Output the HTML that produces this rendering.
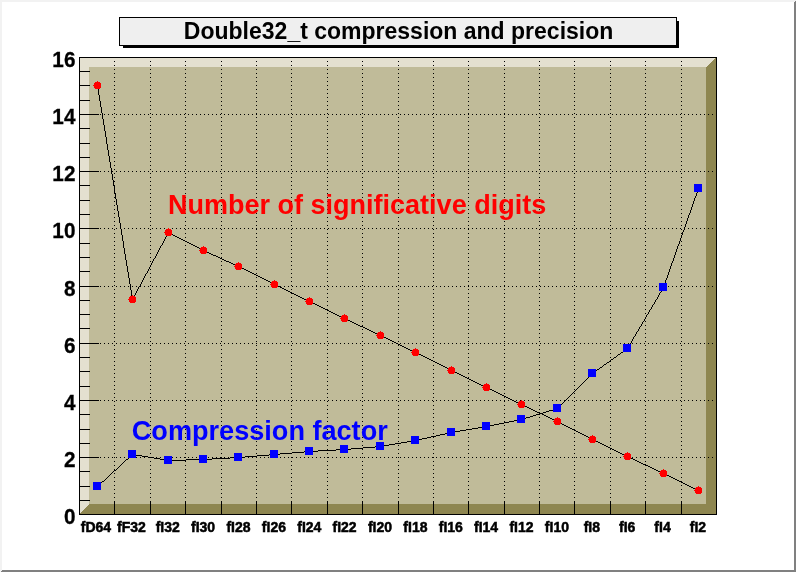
<!DOCTYPE html>
<html lang="en"><head><meta charset="utf-8"><title>Double32_t compression and precision</title>
<style>html,body{margin:0;padding:0;background:#fff}body{width:796px;height:572px;overflow:hidden}svg{display:block}text{font-family:"Liberation Sans",Arial,Helvetica,sans-serif;font-weight:bold}</style></head><body>
<svg width="796" height="572" viewBox="0 0 796 572">
<g shape-rendering="crispEdges">
<rect x="0" y="0" width="796" height="572" fill="#ffffff"/>
<polygon points="0,0 796,0 794,2 2,2 2,570 0,572" fill="#f2f2f2"/>
<polygon points="796,0 796,572 0,572 2,570 794,570 794,2" fill="#808080"/>
<rect x="123" y="21" width="556" height="27" fill="#000"/>
<rect x="119.5" y="17.5" width="557" height="28" fill="#efefef" stroke="#000" stroke-width="1"/>
<rect x="80" y="58" width="636" height="456" fill="#c0bb99"/>
<polygon points="80,58 716,58 706,67 89,67 89,504 80,514" fill="#e4e0d0"/>
<polygon points="716,58 716,514 80,514 89,504 706,504 706,67" fill="#8e8650"/>
<line x1="114.5" y1="57" x2="114.5" y2="514" stroke="#000" stroke-width="1" stroke-dasharray="1 3"/>
<line x1="150.5" y1="57" x2="150.5" y2="514" stroke="#000" stroke-width="1" stroke-dasharray="1 3"/>
<line x1="185.5" y1="57" x2="185.5" y2="514" stroke="#000" stroke-width="1" stroke-dasharray="1 3"/>
<line x1="221.5" y1="57" x2="221.5" y2="514" stroke="#000" stroke-width="1" stroke-dasharray="1 3"/>
<line x1="256.5" y1="57" x2="256.5" y2="514" stroke="#000" stroke-width="1" stroke-dasharray="1 3"/>
<line x1="291.5" y1="57" x2="291.5" y2="514" stroke="#000" stroke-width="1" stroke-dasharray="1 3"/>
<line x1="327.5" y1="57" x2="327.5" y2="514" stroke="#000" stroke-width="1" stroke-dasharray="1 3"/>
<line x1="362.5" y1="57" x2="362.5" y2="514" stroke="#000" stroke-width="1" stroke-dasharray="1 3"/>
<line x1="398.5" y1="57" x2="398.5" y2="514" stroke="#000" stroke-width="1" stroke-dasharray="1 3"/>
<line x1="433.5" y1="57" x2="433.5" y2="514" stroke="#000" stroke-width="1" stroke-dasharray="1 3"/>
<line x1="468.5" y1="57" x2="468.5" y2="514" stroke="#000" stroke-width="1" stroke-dasharray="1 3"/>
<line x1="504.5" y1="57" x2="504.5" y2="514" stroke="#000" stroke-width="1" stroke-dasharray="1 3"/>
<line x1="539.5" y1="57" x2="539.5" y2="514" stroke="#000" stroke-width="1" stroke-dasharray="1 3"/>
<line x1="574.5" y1="57" x2="574.5" y2="514" stroke="#000" stroke-width="1" stroke-dasharray="1 3"/>
<line x1="610.5" y1="57" x2="610.5" y2="514" stroke="#000" stroke-width="1" stroke-dasharray="1 3"/>
<line x1="645.5" y1="57" x2="645.5" y2="514" stroke="#000" stroke-width="1" stroke-dasharray="1 3"/>
<line x1="681.5" y1="57" x2="681.5" y2="514" stroke="#000" stroke-width="1" stroke-dasharray="1 3"/>
<line x1="80" y1="457.5" x2="716" y2="457.5" stroke="#000" stroke-width="1" stroke-dasharray="1 3"/>
<line x1="80" y1="400.5" x2="716" y2="400.5" stroke="#000" stroke-width="1" stroke-dasharray="1 3"/>
<line x1="80" y1="343.5" x2="716" y2="343.5" stroke="#000" stroke-width="1" stroke-dasharray="1 3"/>
<line x1="80" y1="286.5" x2="716" y2="286.5" stroke="#000" stroke-width="1" stroke-dasharray="1 3"/>
<line x1="80" y1="228.5" x2="716" y2="228.5" stroke="#000" stroke-width="1" stroke-dasharray="1 3"/>
<line x1="80" y1="171.5" x2="716" y2="171.5" stroke="#000" stroke-width="1" stroke-dasharray="1 3"/>
<line x1="80" y1="114.5" x2="716" y2="114.5" stroke="#000" stroke-width="1" stroke-dasharray="1 3"/>
<rect x="80" y="514" width="19" height="1" fill="#000"/>
<rect x="80" y="500" width="10" height="1" fill="#000"/>
<rect x="80" y="486" width="10" height="1" fill="#000"/>
<rect x="80" y="471" width="10" height="1" fill="#000"/>
<rect x="80" y="457" width="19" height="1" fill="#000"/>
<rect x="80" y="443" width="10" height="1" fill="#000"/>
<rect x="80" y="429" width="10" height="1" fill="#000"/>
<rect x="80" y="414" width="10" height="1" fill="#000"/>
<rect x="80" y="400" width="19" height="1" fill="#000"/>
<rect x="80" y="386" width="10" height="1" fill="#000"/>
<rect x="80" y="371" width="10" height="1" fill="#000"/>
<rect x="80" y="357" width="10" height="1" fill="#000"/>
<rect x="80" y="343" width="19" height="1" fill="#000"/>
<rect x="80" y="328" width="10" height="1" fill="#000"/>
<rect x="80" y="314" width="10" height="1" fill="#000"/>
<rect x="80" y="300" width="10" height="1" fill="#000"/>
<rect x="80" y="286" width="19" height="1" fill="#000"/>
<rect x="80" y="271" width="10" height="1" fill="#000"/>
<rect x="80" y="257" width="10" height="1" fill="#000"/>
<rect x="80" y="243" width="10" height="1" fill="#000"/>
<rect x="80" y="228" width="19" height="1" fill="#000"/>
<rect x="80" y="214" width="10" height="1" fill="#000"/>
<rect x="80" y="200" width="10" height="1" fill="#000"/>
<rect x="80" y="185" width="10" height="1" fill="#000"/>
<rect x="80" y="171" width="19" height="1" fill="#000"/>
<rect x="80" y="157" width="10" height="1" fill="#000"/>
<rect x="80" y="143" width="10" height="1" fill="#000"/>
<rect x="80" y="128" width="10" height="1" fill="#000"/>
<rect x="80" y="114" width="19" height="1" fill="#000"/>
<rect x="80" y="100" width="10" height="1" fill="#000"/>
<rect x="80" y="85" width="10" height="1" fill="#000"/>
<rect x="80" y="71" width="10" height="1" fill="#000"/>
<rect x="80" y="57" width="19" height="1" fill="#000"/>
<rect x="114" y="501" width="1" height="13" fill="#000"/>
<rect x="150" y="501" width="1" height="13" fill="#000"/>
<rect x="185" y="501" width="1" height="13" fill="#000"/>
<rect x="221" y="501" width="1" height="13" fill="#000"/>
<rect x="256" y="501" width="1" height="13" fill="#000"/>
<rect x="291" y="501" width="1" height="13" fill="#000"/>
<rect x="327" y="501" width="1" height="13" fill="#000"/>
<rect x="362" y="501" width="1" height="13" fill="#000"/>
<rect x="398" y="501" width="1" height="13" fill="#000"/>
<rect x="433" y="501" width="1" height="13" fill="#000"/>
<rect x="468" y="501" width="1" height="13" fill="#000"/>
<rect x="504" y="501" width="1" height="13" fill="#000"/>
<rect x="539" y="501" width="1" height="13" fill="#000"/>
<rect x="574" y="501" width="1" height="13" fill="#000"/>
<rect x="610" y="501" width="1" height="13" fill="#000"/>
<rect x="645" y="501" width="1" height="13" fill="#000"/>
<rect x="681" y="501" width="1" height="13" fill="#000"/>
<rect x="79.5" y="57.5" width="637" height="457" fill="none" stroke="#000" stroke-width="1"/>
<path fill="#000" d="M698 188h1v2h-1zM697 190h1v3h-1zM696 193h1v3h-1zM695 196h1v2h-1zM694 198h1v3h-1zM693 201h1v3h-1zM692 204h1v3h-1zM691 207h1v3h-1zM690 210h1v3h-1zM689 213h1v2h-1zM688 215h1v3h-1zM687 218h1v3h-1zM686 221h1v3h-1zM685 224h1v3h-1zM684 227h1v3h-1zM683 230h1v2h-1zM682 232h1v3h-1zM681 235h1v3h-1zM680 238h1v3h-1zM679 241h1v3h-1zM678 244h1v2h-1zM677 246h1v3h-1zM676 249h1v3h-1zM675 252h1v3h-1zM674 255h1v3h-1zM673 258h1v3h-1zM672 261h1v2h-1zM671 263h1v3h-1zM670 266h1v3h-1zM669 269h1v3h-1zM668 272h1v3h-1zM667 275h1v3h-1zM666 278h1v2h-1zM665 280h1v3h-1zM664 283h1v3h-1zM663 286h1v2h-1zM662 288h1v2h-1zM661 290h1v2h-1zM660 292h1v1h-1zM659 293h1v2h-1zM658 295h1v2h-1zM657 297h1v2h-1zM656 299h1v1h-1zM655 300h1v2h-1zM654 302h1v2h-1zM653 304h1v1h-1zM652 305h1v2h-1zM651 307h1v2h-1zM650 309h1v1h-1zM649 310h1v2h-1zM648 312h1v2h-1zM647 314h1v1h-1zM646 315h1v2h-1zM645 317h1v2h-1zM644 319h1v2h-1zM643 321h1v1h-1zM642 322h1v2h-1zM641 324h1v2h-1zM640 326h1v1h-1zM639 327h1v2h-1zM638 329h1v2h-1zM637 331h1v1h-1zM636 332h1v2h-1zM635 334h1v2h-1zM634 336h1v1h-1zM633 337h1v2h-1zM632 339h1v2h-1zM631 341h1v2h-1zM630 343h1v1h-1zM629 344h1v2h-1zM628 346h1v2h-1zM627 348h1v1h-1zM625 349h2v1h-2zM624 350h1v1h-1zM623 351h1v1h-1zM621 352h2v1h-2zM620 353h1v1h-1zM618 354h2v1h-2zM617 355h1v1h-1zM616 356h1v1h-1zM614 357h2v1h-2zM613 358h1v1h-1zM611 359h2v1h-2zM610 360h1v1h-1zM609 361h1v1h-1zM607 362h2v1h-2zM606 363h1v1h-1zM604 364h2v1h-2zM603 365h1v1h-1zM602 366h1v1h-1zM600 367h2v1h-2zM599 368h1v1h-1zM597 369h2v1h-2zM596 370h1v1h-1zM595 371h1v1h-1zM593 372h2v1h-2zM592 373h1v1h-1zM591 374h1v1h-1zM590 375h1v1h-1zM589 376h1v1h-1zM588 377h1v1h-1zM587 378h1v1h-1zM586 379h1v1h-1zM585 380h1v1h-1zM584 381h1v1h-1zM583 382h1v1h-1zM582 383h1v1h-1zM581 384h1v1h-1zM580 385h1v1h-1zM579 386h1v1h-1zM578 387h1v1h-1zM577 388h1v1h-1zM576 389h1v1h-1zM575 390h1v1h-1zM574 391h1v1h-1zM573 392h1v1h-1zM572 393h1v1h-1zM571 394h1v1h-1zM570 395h1v1h-1zM569 396h1v1h-1zM568 397h1v1h-1zM567 398h1v1h-1zM566 399h1v1h-1zM565 400h1v1h-1zM564 401h1v1h-1zM563 402h1v1h-1zM562 403h1v1h-1zM561 404h1v1h-1zM560 405h1v1h-1zM559 406h1v1h-1zM558 407h1v1h-1zM556 408h2v1h-2zM553 409h3v1h-3zM549 410h4v1h-4zM546 411h3v1h-3zM543 412h3v1h-3zM540 413h3v1h-3zM536 414h4v1h-4zM533 415h3v1h-3zM530 416h3v1h-3zM526 417h4v1h-4zM523 418h3v1h-3zM519 419h4v1h-4zM514 420h5v1h-5zM509 421h5v1h-5zM504 422h5v1h-5zM499 423h5v1h-5zM494 424h5v1h-5zM489 425h5v1h-5zM484 426h5v1h-5zM478 427h6v1h-6zM472 428h6v1h-6zM466 429h6v1h-6zM460 430h6v1h-6zM454 431h6v1h-6zM449 432h5v1h-5zM445 433h4v1h-4zM440 434h5v1h-5zM436 435h4v1h-4zM431 436h5v1h-5zM427 437h4v1h-4zM422 438h5v1h-5zM418 439h4v1h-4zM413 440h5v1h-5zM407 441h6v1h-6zM401 442h6v1h-6zM395 443h6v1h-6zM389 444h6v1h-6zM383 445h6v1h-6zM375 446h8v1h-8zM363 447h12v1h-12zM351 448h12v1h-12zM336 449h15v1h-15zM318 450h18v1h-18zM304 451h14v1h-14zM292 452h12v1h-12zM280 453h12v1h-12zM132 454h4v1h-4zM269 454h11v1h-11zM131 455h1v1h-1zM136 455h6v1h-6zM257 455h12v1h-12zM130 456h1v1h-1zM142 456h6v1h-6zM245 456h12v1h-12zM129 457h1v1h-1zM148 457h6v1h-6zM230 457h15v1h-15zM128 458h1v1h-1zM154 458h6v1h-6zM212 458h18v1h-18zM126 459h2v1h-2zM160 459h6v1h-6zM186 459h26v1h-26zM125 460h1v1h-1zM166 460h20v1h-20zM124 461h1v1h-1zM123 462h1v1h-1zM122 463h1v1h-1zM121 464h1v1h-1zM120 465h1v1h-1zM119 466h1v1h-1zM118 467h1v1h-1zM117 468h1v1h-1zM116 469h1v1h-1zM114 470h2v1h-2zM113 471h1v1h-1zM112 472h1v1h-1zM111 473h1v1h-1zM110 474h1v1h-1zM109 475h1v1h-1zM108 476h1v1h-1zM107 477h1v1h-1zM106 478h1v1h-1zM105 479h1v1h-1zM104 480h1v1h-1zM102 481h2v1h-2zM101 482h1v1h-1zM100 483h1v1h-1zM99 484h1v1h-1zM98 485h1v1h-1zM97 486h1v1h-1z"/>
<path fill="#000" d="M97 85h1v4h-1zM98 89h1v6h-1zM99 95h1v6h-1zM100 101h1v6h-1zM101 107h1v6h-1zM102 113h1v6h-1zM103 119h1v6h-1zM104 125h1v6h-1zM105 131h1v6h-1zM106 137h1v7h-1zM107 144h1v6h-1zM108 150h1v6h-1zM109 156h1v6h-1zM110 162h1v6h-1zM111 168h1v6h-1zM112 174h1v6h-1zM113 180h1v6h-1zM114 186h1v7h-1zM115 193h1v6h-1zM116 199h1v6h-1zM117 205h1v6h-1zM118 211h1v6h-1zM119 217h1v6h-1zM120 223h1v6h-1zM121 229h1v6h-1zM168 232h1v1h-1zM167 233h1v2h-1zM169 233h2v1h-2zM171 234h2v1h-2zM122 235h1v6h-1zM166 235h1v2h-1zM173 235h2v1h-2zM175 236h2v1h-2zM165 237h1v2h-1zM177 237h2v1h-2zM179 238h2v1h-2zM164 239h1v2h-1zM181 239h2v1h-2zM183 240h2v1h-2zM123 241h1v7h-1zM163 241h1v2h-1zM185 241h2v1h-2zM187 242h2v1h-2zM162 243h1v2h-1zM189 243h2v1h-2zM191 244h2v1h-2zM161 245h1v1h-1zM193 245h2v1h-2zM160 246h1v2h-1zM195 246h2v1h-2zM197 247h2v1h-2zM124 248h1v6h-1zM159 248h1v2h-1zM199 248h2v1h-2zM201 249h2v1h-2zM158 250h1v2h-1zM203 250h2v1h-2zM205 251h2v1h-2zM157 252h1v2h-1zM207 252h2v1h-2zM209 253h2v1h-2zM125 254h1v6h-1zM156 254h1v2h-1zM211 254h2v1h-2zM213 255h3v1h-3zM155 256h1v2h-1zM216 256h2v1h-2zM218 257h2v1h-2zM154 258h1v1h-1zM220 258h2v1h-2zM153 259h1v2h-1zM222 259h2v1h-2zM126 260h1v6h-1zM224 260h2v1h-2zM152 261h1v2h-1zM226 261h3v1h-3zM229 262h2v1h-2zM151 263h1v2h-1zM231 263h2v1h-2zM233 264h2v1h-2zM150 265h1v2h-1zM235 265h2v1h-2zM127 266h1v6h-1zM237 266h3v1h-3zM149 267h1v2h-1zM240 267h2v1h-2zM242 268h2v1h-2zM148 269h1v2h-1zM244 269h2v1h-2zM246 270h2v1h-2zM147 271h1v2h-1zM248 271h2v1h-2zM128 272h1v6h-1zM250 272h2v1h-2zM146 273h1v1h-1zM252 273h2v1h-2zM145 274h1v2h-1zM254 274h2v1h-2zM256 275h2v1h-2zM144 276h1v2h-1zM258 276h2v1h-2zM260 277h2v1h-2zM129 278h1v6h-1zM143 278h1v2h-1zM262 278h2v1h-2zM264 279h2v1h-2zM142 280h1v2h-1zM266 280h2v1h-2zM268 281h2v1h-2zM141 282h1v2h-1zM270 282h2v1h-2zM272 283h2v1h-2zM130 284h1v6h-1zM140 284h1v2h-1zM274 284h2v1h-2zM276 285h2v1h-2zM139 286h1v1h-1zM278 286h2v1h-2zM138 287h1v2h-1zM280 287h2v1h-2zM282 288h2v1h-2zM137 289h1v2h-1zM284 289h2v1h-2zM131 290h1v6h-1zM286 290h2v1h-2zM136 291h1v2h-1zM288 291h2v1h-2zM290 292h2v1h-2zM135 293h1v2h-1zM292 293h2v1h-2zM294 294h2v1h-2zM134 295h1v2h-1zM296 295h2v1h-2zM132 296h1v1h-1zM298 296h2v1h-2zM132 297h2v1h-2zM300 297h2v1h-2zM132 298h2v1h-2zM302 298h2v1h-2zM132 299h1v1h-1zM304 299h2v1h-2zM306 300h2v1h-2zM308 301h3v1h-3zM311 302h2v1h-2zM313 303h2v1h-2zM315 304h2v1h-2zM317 305h2v1h-2zM319 306h2v1h-2zM321 307h2v1h-2zM323 308h2v1h-2zM325 309h2v1h-2zM327 310h2v1h-2zM329 311h2v1h-2zM331 312h2v1h-2zM333 313h2v1h-2zM335 314h2v1h-2zM337 315h2v1h-2zM339 316h2v1h-2zM341 317h2v1h-2zM343 318h3v1h-3zM346 319h2v1h-2zM348 320h2v1h-2zM350 321h2v1h-2zM352 322h2v1h-2zM354 323h2v1h-2zM356 324h2v1h-2zM358 325h2v1h-2zM360 326h3v1h-3zM363 327h2v1h-2zM365 328h2v1h-2zM367 329h2v1h-2zM369 330h2v1h-2zM371 331h2v1h-2zM373 332h2v1h-2zM375 333h2v1h-2zM377 334h2v1h-2zM379 335h3v1h-3zM382 336h2v1h-2zM384 337h2v1h-2zM386 338h2v1h-2zM388 339h2v1h-2zM390 340h2v1h-2zM392 341h2v1h-2zM394 342h2v1h-2zM396 343h2v1h-2zM398 344h2v1h-2zM400 345h2v1h-2zM402 346h2v1h-2zM404 347h2v1h-2zM406 348h2v1h-2zM408 349h2v1h-2zM410 350h2v1h-2zM412 351h2v1h-2zM414 352h3v1h-3zM417 353h2v1h-2zM419 354h2v1h-2zM421 355h2v1h-2zM423 356h2v1h-2zM425 357h2v1h-2zM427 358h2v1h-2zM429 359h2v1h-2zM431 360h2v1h-2zM433 361h2v1h-2zM435 362h2v1h-2zM437 363h2v1h-2zM439 364h2v1h-2zM441 365h2v1h-2zM443 366h2v1h-2zM445 367h2v1h-2zM447 368h2v1h-2zM449 369h2v1h-2zM451 370h2v1h-2zM453 371h2v1h-2zM455 372h2v1h-2zM457 373h2v1h-2zM459 374h2v1h-2zM461 375h2v1h-2zM463 376h2v1h-2zM465 377h2v1h-2zM467 378h2v1h-2zM469 379h2v1h-2zM471 380h2v1h-2zM473 381h2v1h-2zM475 382h2v1h-2zM477 383h2v1h-2zM479 384h2v1h-2zM481 385h2v1h-2zM483 386h2v1h-2zM485 387h3v1h-3zM488 388h2v1h-2zM490 389h2v1h-2zM492 390h2v1h-2zM494 391h2v1h-2zM496 392h2v1h-2zM498 393h2v1h-2zM500 394h2v1h-2zM502 395h2v1h-2zM504 396h2v1h-2zM506 397h2v1h-2zM508 398h2v1h-2zM510 399h2v1h-2zM512 400h2v1h-2zM514 401h2v1h-2zM516 402h2v1h-2zM518 403h2v1h-2zM520 404h3v1h-3zM523 405h2v1h-2zM525 406h2v1h-2zM527 407h2v1h-2zM529 408h2v1h-2zM531 409h2v1h-2zM533 410h2v1h-2zM535 411h2v1h-2zM537 412h3v1h-3zM540 413h2v1h-2zM542 414h2v1h-2zM544 415h2v1h-2zM546 416h2v1h-2zM548 417h2v1h-2zM550 418h2v1h-2zM552 419h2v1h-2zM554 420h2v1h-2zM556 421h2v1h-2zM558 422h2v1h-2zM560 423h2v1h-2zM562 424h2v1h-2zM564 425h2v1h-2zM566 426h2v1h-2zM568 427h2v1h-2zM570 428h2v1h-2zM572 429h2v1h-2zM574 430h2v1h-2zM576 431h2v1h-2zM578 432h2v1h-2zM580 433h2v1h-2zM582 434h2v1h-2zM584 435h2v1h-2zM586 436h2v1h-2zM588 437h2v1h-2zM590 438h2v1h-2zM592 439h2v1h-2zM594 440h2v1h-2zM596 441h2v1h-2zM598 442h2v1h-2zM600 443h2v1h-2zM602 444h2v1h-2zM604 445h2v1h-2zM606 446h2v1h-2zM608 447h2v1h-2zM610 448h2v1h-2zM612 449h2v1h-2zM614 450h2v1h-2zM616 451h2v1h-2zM618 452h2v1h-2zM620 453h2v1h-2zM622 454h2v1h-2zM624 455h2v1h-2zM626 456h3v1h-3zM629 457h2v1h-2zM631 458h2v1h-2zM633 459h2v1h-2zM635 460h2v1h-2zM637 461h2v1h-2zM639 462h2v1h-2zM641 463h2v1h-2zM643 464h3v1h-3zM646 465h2v1h-2zM648 466h2v1h-2zM650 467h2v1h-2zM652 468h2v1h-2zM654 469h2v1h-2zM656 470h2v1h-2zM658 471h2v1h-2zM660 472h2v1h-2zM662 473h3v1h-3zM665 474h2v1h-2zM667 475h2v1h-2zM669 476h2v1h-2zM671 477h2v1h-2zM673 478h2v1h-2zM675 479h2v1h-2zM677 480h2v1h-2zM679 481h2v1h-2zM681 482h2v1h-2zM683 483h2v1h-2zM685 484h2v1h-2zM687 485h2v1h-2zM689 486h2v1h-2zM691 487h2v1h-2zM693 488h2v1h-2zM695 489h2v1h-2zM697 490h2v1h-2z"/>
<rect x="93" y="482" width="8" height="8" fill="#0000ff"/>
<rect x="128" y="450" width="8" height="8" fill="#0000ff"/>
<rect x="164" y="456" width="8" height="8" fill="#0000ff"/>
<rect x="199" y="455" width="8" height="8" fill="#0000ff"/>
<rect x="234" y="453" width="8" height="8" fill="#0000ff"/>
<rect x="270" y="450" width="8" height="8" fill="#0000ff"/>
<rect x="305" y="447" width="8" height="8" fill="#0000ff"/>
<rect x="340" y="445" width="8" height="8" fill="#0000ff"/>
<rect x="376" y="442" width="8" height="8" fill="#0000ff"/>
<rect x="411" y="436" width="8" height="8" fill="#0000ff"/>
<rect x="447" y="428" width="8" height="8" fill="#0000ff"/>
<rect x="482" y="422" width="8" height="8" fill="#0000ff"/>
<rect x="517" y="415" width="8" height="8" fill="#0000ff"/>
<rect x="553" y="404" width="8" height="8" fill="#0000ff"/>
<rect x="588" y="369" width="8" height="8" fill="#0000ff"/>
<rect x="623" y="344" width="8" height="8" fill="#0000ff"/>
<rect x="659" y="283" width="8" height="8" fill="#0000ff"/>
<rect x="694" y="184" width="8" height="8" fill="#0000ff"/>
<path fill="#ff0000" d="M94 83h1v-1h5v1h1v5h-1v1h-5v-1h-1zM97 81h1v1h-1zM93 85h1v1h-1z"/>
<path fill="#ff0000" d="M129 297h1v-1h5v1h1v5h-1v1h-5v-1h-1zM132 295h1v1h-1zM128 299h1v1h-1z"/>
<path fill="#ff0000" d="M165 230h1v-1h5v1h1v5h-1v1h-5v-1h-1zM168 228h1v1h-1zM164 232h1v1h-1z"/>
<path fill="#ff0000" d="M200 248h1v-1h5v1h1v5h-1v1h-5v-1h-1zM203 246h1v1h-1zM199 250h1v1h-1z"/>
<path fill="#ff0000" d="M235 264h1v-1h5v1h1v5h-1v1h-5v-1h-1zM238 262h1v1h-1zM234 266h1v1h-1z"/>
<path fill="#ff0000" d="M271 282h1v-1h5v1h1v5h-1v1h-5v-1h-1zM274 280h1v1h-1zM270 284h1v1h-1z"/>
<path fill="#ff0000" d="M306 299h1v-1h5v1h1v5h-1v1h-5v-1h-1zM309 297h1v1h-1zM305 301h1v1h-1z"/>
<path fill="#ff0000" d="M341 316h1v-1h5v1h1v5h-1v1h-5v-1h-1zM344 314h1v1h-1zM340 318h1v1h-1z"/>
<path fill="#ff0000" d="M377 333h1v-1h5v1h1v5h-1v1h-5v-1h-1zM380 331h1v1h-1zM376 335h1v1h-1z"/>
<path fill="#ff0000" d="M412 350h1v-1h5v1h1v5h-1v1h-5v-1h-1zM415 348h1v1h-1zM411 352h1v1h-1z"/>
<path fill="#ff0000" d="M448 368h1v-1h5v1h1v5h-1v1h-5v-1h-1zM451 366h1v1h-1zM447 370h1v1h-1z"/>
<path fill="#ff0000" d="M483 385h1v-1h5v1h1v5h-1v1h-5v-1h-1zM486 383h1v1h-1zM482 387h1v1h-1z"/>
<path fill="#ff0000" d="M518 402h1v-1h5v1h1v5h-1v1h-5v-1h-1zM521 400h1v1h-1zM517 404h1v1h-1z"/>
<path fill="#ff0000" d="M554 419h1v-1h5v1h1v5h-1v1h-5v-1h-1zM557 417h1v1h-1zM553 421h1v1h-1z"/>
<path fill="#ff0000" d="M589 437h1v-1h5v1h1v5h-1v1h-5v-1h-1zM592 435h1v1h-1zM588 439h1v1h-1z"/>
<path fill="#ff0000" d="M624 454h1v-1h5v1h1v5h-1v1h-5v-1h-1zM627 452h1v1h-1zM623 456h1v1h-1z"/>
<path fill="#ff0000" d="M660 471h1v-1h5v1h1v5h-1v1h-5v-1h-1zM663 469h1v1h-1zM659 473h1v1h-1z"/>
<path fill="#ff0000" d="M695 488h1v-1h5v1h1v5h-1v1h-5v-1h-1zM698 486h1v1h-1zM694 490h1v1h-1z"/>
</g>
<g>
<text x="398.6" y="39.2" font-size="23" text-anchor="middle" fill="#000">Double32_t compression and precision</text>
<text x="168.1" y="214" font-size="27" fill="#ff0000">Number of significative digits</text>
<text x="131.8" y="439.9" font-size="27.1" fill="#0000ff">Compression factor</text>
<text transform="translate(75.4,524.2) scale(0.925,1)" font-size="22.4" text-anchor="end" fill="#000" stroke="#000" stroke-width="0.3">0</text>
<text transform="translate(75.4,467.2) scale(0.925,1)" font-size="22.4" text-anchor="end" fill="#000" stroke="#000" stroke-width="0.3">2</text>
<text transform="translate(75.4,410.2) scale(0.925,1)" font-size="22.4" text-anchor="end" fill="#000" stroke="#000" stroke-width="0.3">4</text>
<text transform="translate(75.4,353.2) scale(0.925,1)" font-size="22.4" text-anchor="end" fill="#000" stroke="#000" stroke-width="0.3">6</text>
<text transform="translate(75.4,296.2) scale(0.925,1)" font-size="22.4" text-anchor="end" fill="#000" stroke="#000" stroke-width="0.3">8</text>
<text transform="translate(75.4,238.2) scale(0.925,1)" font-size="22.4" text-anchor="end" fill="#000" stroke="#000" stroke-width="0.3">10</text>
<text transform="translate(75.4,181.2) scale(0.925,1)" font-size="22.4" text-anchor="end" fill="#000" stroke="#000" stroke-width="0.3">12</text>
<text transform="translate(75.4,124.2) scale(0.925,1)" font-size="22.4" text-anchor="end" fill="#000" stroke="#000" stroke-width="0.3">14</text>
<text transform="translate(75.4,67.2) scale(0.925,1)" font-size="22.4" text-anchor="end" fill="#000" stroke="#000" stroke-width="0.3">16</text>
<text x="96.0" y="532" font-size="14" text-anchor="middle" fill="#000" stroke="#000" stroke-width="0.5">fD64</text>
<text x="131.4" y="532" font-size="14" text-anchor="middle" fill="#000" stroke="#000" stroke-width="0.5">fF32</text>
<text x="167.7" y="532" font-size="14" text-anchor="middle" fill="#000" stroke="#000" stroke-width="0.5">fI32</text>
<text x="203.1" y="532" font-size="14" text-anchor="middle" fill="#000" stroke="#000" stroke-width="0.5">fI30</text>
<text x="238.5" y="532" font-size="14" text-anchor="middle" fill="#000" stroke="#000" stroke-width="0.5">fI28</text>
<text x="273.9" y="532" font-size="14" text-anchor="middle" fill="#000" stroke="#000" stroke-width="0.5">fI26</text>
<text x="309.3" y="532" font-size="14" text-anchor="middle" fill="#000" stroke="#000" stroke-width="0.5">fI24</text>
<text x="344.6" y="532" font-size="14" text-anchor="middle" fill="#000" stroke="#000" stroke-width="0.5">fI22</text>
<text x="380.0" y="532" font-size="14" text-anchor="middle" fill="#000" stroke="#000" stroke-width="0.5">fI20</text>
<text x="415.4" y="532" font-size="14" text-anchor="middle" fill="#000" stroke="#000" stroke-width="0.5">fI18</text>
<text x="450.8" y="532" font-size="14" text-anchor="middle" fill="#000" stroke="#000" stroke-width="0.5">fI16</text>
<text x="486.1" y="532" font-size="14" text-anchor="middle" fill="#000" stroke="#000" stroke-width="0.5">fI14</text>
<text x="521.5" y="532" font-size="14" text-anchor="middle" fill="#000" stroke="#000" stroke-width="0.5">fI12</text>
<text x="556.9" y="532" font-size="14" text-anchor="middle" fill="#000" stroke="#000" stroke-width="0.5">fI10</text>
<text x="591.8" y="532" font-size="14" text-anchor="middle" fill="#000" stroke="#000" stroke-width="0.5">fI8</text>
<text x="627.2" y="532" font-size="14" text-anchor="middle" fill="#000" stroke="#000" stroke-width="0.5">fI6</text>
<text x="662.5" y="532" font-size="14" text-anchor="middle" fill="#000" stroke="#000" stroke-width="0.5">fI4</text>
<text x="697.9" y="532" font-size="14" text-anchor="middle" fill="#000" stroke="#000" stroke-width="0.5">fI2</text>
</g></svg></body></html>
